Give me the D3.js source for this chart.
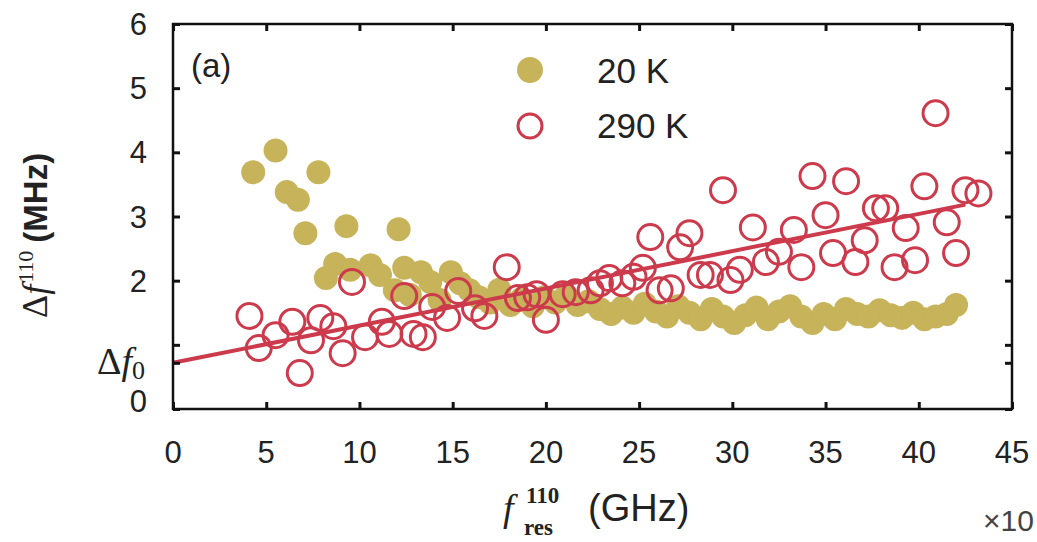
<!DOCTYPE html>
<html>
<head>
<meta charset="utf-8">
<script src="https://cdn.jsdelivr.net/npm/d3@7"></script>
<style>
  html, body { margin: 0; padding: 0; background: #fff; }
  svg { display: block; }
</style>
</head>
<body>
<svg id="chart" width="1037" height="542"></svg>
<script>
// Linewidth of resonance vs resonance frequency, two temperatures
const xTicks = [0, 5, 10, 15, 20, 25, 30, 35, 40, 45];
const yTicks = [0, 2, 3, 4, 5, 6];
const yMinorTicks = [1];
const deltaF0 = 0.72;        // intercept of the linear fit (MHz)
const fitSlope = 0.058;      // MHz per GHz
const fitRange = [0, 42.5];

// 20 K data: [f_res (GHz), Δf (MHz)]
const x20 = [4.3, 5.5, 6.1, 6.7, 7.8, 7.1, 9.3, 12.1, 8.2, 8.7, 9.5, 10.6, 11.1, 12.4, 13.3, 11.9, 12.7,
  13.8, 14.3, 14.9, 15.4, 15.9, 16.4, 17.0, 17.5, 18.1, 18.7, 19.3, 19.9, 20.5, 21.1, 21.7, 22.3, 22.9,
  23.5, 24.1, 24.7, 25.3, 25.9, 26.5, 27.1, 27.7, 28.3, 28.9, 29.5, 30.1, 30.7, 31.3, 31.9, 32.5, 33.1,
  33.7, 34.3, 34.9, 35.5, 36.1, 36.7, 37.3, 37.9, 38.5, 39.1, 39.7, 40.3, 40.9, 41.5, 42.0];
const y20 = [3.69, 4.03, 3.38, 3.26, 3.69, 2.74, 2.85, 2.80, 2.04, 2.26, 2.17, 2.24, 2.09, 2.20, 2.13, 1.85, 1.78,
  1.98, 1.70, 2.13, 1.96, 1.85, 1.74, 1.66, 1.86, 1.62, 1.72, 1.60, 1.74, 1.66, 1.76, 1.62, 1.68, 1.56,
  1.48, 1.58, 1.50, 1.64, 1.52, 1.44, 1.60, 1.50, 1.40, 1.56, 1.44, 1.34, 1.46, 1.58, 1.40, 1.52, 1.60,
  1.44, 1.34, 1.48, 1.40, 1.56, 1.48, 1.44, 1.54, 1.46, 1.42, 1.50, 1.40, 1.44, 1.48, 1.62];

// 290 K data: [f_res (GHz), Δf (MHz)]
const x290 = [4.1, 4.6, 5.5, 6.4, 6.8, 7.4, 7.9, 8.6, 9.1, 9.6, 10.3, 11.2, 11.6, 12.4, 12.9, 13.4, 13.9,
  14.7, 15.3, 16.2, 16.7, 17.9, 18.5, 19.0, 19.5, 20.0, 20.9, 21.6, 22.4, 22.9, 23.4, 24.1, 24.7, 25.2,
  25.6, 26.1, 26.7, 27.2, 27.7, 28.3, 28.8, 29.5, 29.9, 30.4, 31.1, 31.8, 32.5, 33.3, 33.7, 34.3, 35.0,
  35.4, 36.1, 36.6, 37.1, 37.7, 38.2, 38.7, 39.3, 39.8, 40.3, 40.9, 41.5, 42.0, 42.5, 43.2];
const y290 = [1.45, 0.95, 1.15, 1.36, 0.56, 1.07, 1.42, 1.29, 0.87, 1.98, 1.12, 1.36, 1.17, 1.76, 1.17, 1.12, 1.59,
  1.42, 1.84, 1.57, 1.45, 2.21, 1.73, 1.74, 1.79, 1.39, 1.79, 1.82, 1.85, 1.96, 2.04, 1.96, 2.06, 2.20,
  2.68, 1.85, 1.88, 2.52, 2.74, 2.09, 2.09, 3.41, 2.01, 2.17, 2.83, 2.29, 2.45, 2.79, 2.21, 3.63, 3.02,
  2.43, 3.55, 2.29, 2.63, 3.13, 3.13, 2.21, 2.82, 2.32, 3.47, 4.61, 2.91, 2.43, 3.41, 3.36];

const seriesNames = ["20 K", "290 K"];
const olive = "#c6b35a";
const red = "#cc3a4c";

const svg = d3.select("#chart");
const margin = { left: 173, right: 25, top: 24, bottom: 133 };
const W = 1037, H = 542;
const x = d3.scaleLinear().domain([0, 45]).range([margin.left, W - margin.right]);
const y = d3.scaleLinear().domain([0, 6]).range([H - margin.bottom, margin.top]);

const sans = "'Liberation Sans', Arial, sans-serif";
const serif = "'Liberation Serif', 'Times New Roman', serif";

// data: 20 K filled dots
const pts20 = x20.map((v, i) => [v, y20[i]]);
svg.append("g").selectAll("circle").data(pts20).join("circle")
  .attr("cx", d => x(d[0])).attr("cy", d => y(d[1])).attr("r", 12)
  .attr("fill", olive);

// linear fit for 290 K
const fitLine = d3.line().x(d => x(d)).y(d => y(deltaF0 + fitSlope * d));
svg.append("path").datum(fitRange).attr("d", fitLine)
  .attr("stroke", red).attr("stroke-width", 4).attr("fill", "none");

// data: 290 K open circles
const pts290 = x290.map((v, i) => [v, y290[i]]);
svg.append("g").selectAll("circle").data(pts290).join("circle")
  .attr("cx", d => x(d[0])).attr("cy", d => y(d[1])).attr("r", 12.5)
  .attr("fill", "none").attr("stroke", red).attr("stroke-width", 3);

// frame
svg.append("rect")
  .attr("x", x(0)).attr("y", y(6)).attr("width", x(45) - x(0)).attr("height", y(0) - y(6))
  .attr("fill", "none").attr("stroke", "#111").attr("stroke-width", 2.5);

// axes with inward ticks on all four sides
const tl = 7;
const yTickVals = yTicks.concat(yMinorTicks, [deltaF0]);
const bottomAxis = d3.axisBottom(x).tickValues(xTicks).tickSize(-tl).tickFormat("");
const topAxis = d3.axisTop(x).tickValues(xTicks).tickSize(-tl).tickFormat("");
const leftAxis = d3.axisLeft(y).tickValues(yTickVals).tickSize(-tl).tickFormat("");
const rightAxis = d3.axisRight(y).tickValues(yTickVals).tickSize(-tl).tickFormat("");
[[bottomAxis, `translate(0,${y(0)})`], [topAxis, `translate(0,${y(6)})`],
 [leftAxis, `translate(${x(0)},0)`], [rightAxis, `translate(${x(45)},0)`]].forEach(([ax, tr]) => {
  const g = svg.append("g").attr("transform", tr).call(ax);
  g.select(".domain").remove();
  g.selectAll("line").attr("stroke", "#111").attr("stroke-width", 3);
});

// tick labels
svg.append("g").selectAll("text").data(xTicks).join("text")
  .attr("x", d => x(d)).attr("y", 463)
  .attr("text-anchor", "middle")
  .style("font-family", sans).style("font-size", "31px").attr("fill", "#222")
  .text(d => d);

svg.append("g").selectAll("text").data(yTicks).join("text")
  .attr("x", 147).attr("y", d => Math.min(y(d), 401)).attr("dy", "0.36em")
  .attr("text-anchor", "end")
  .style("font-family", sans).style("font-size", "31px").attr("fill", "#222")
  .text(d => d);

// Δf0 label at the fit intercept
const df0 = svg.append("text")
  .attr("x", 145).attr("y", y(deltaF0) + 11).attr("text-anchor", "end")
  .style("font-family", serif).style("font-size", "38px").attr("fill", "#222");
df0.append("tspan").text("Δ");
df0.append("tspan").style("font-style", "italic").text("f");
df0.append("tspan").attr("dy", 5).style("font-size", "26px").text("0");

// panel tag
svg.append("text").attr("x", 191).attr("y", 77)
  .style("font-family", sans).style("font-size", "33px").attr("fill", "#222")
  .text("(a)");

// legend
const leg = svg.append("g");
leg.append("circle").attr("cx", 530).attr("cy", 70).attr("r", 13).attr("fill", olive);
leg.append("circle").attr("cx", 530).attr("cy", 126).attr("r", 12).attr("fill", "none")
  .attr("stroke", red).attr("stroke-width", 3);
leg.selectAll("text").data(seriesNames).join("text")
  .attr("x", 597).attr("y", (d, i) => 83 + i * 55)
  .style("font-family", sans).style("font-size", "35px").attr("fill", "#222")
  .text(d => d);

// x axis title: f_res^110 (GHz)
const xt = svg.append("text").attr("x", 503).attr("y", 521)
  .style("font-family", serif).style("font-size", "38px").attr("fill", "#222");
xt.append("tspan").style("font-style", "italic").text("f");
xt.append("tspan").attr("x", 526).attr("dy", -18).style("font-size", "23px").style("font-weight", "bold").text("110");
xt.append("tspan").attr("x", 524).attr("dy", 32).style("font-size", "23px").style("font-weight", "bold").text("res");
xt.append("tspan").attr("x", 588).attr("dy", -14).style("font-family", sans).style("font-size", "38px").text("(GHz)");

// scale factor at the lower right corner
svg.append("text").attr("x", 983).attr("y", 531)
  .style("font-family", sans).style("font-size", "30px").attr("fill", "#444")
  .text("×10");

// y axis title: Δf^110 (MHz)
const yt = svg.append("text")
  .attr("transform", "translate(47,318) rotate(-90)")
  .style("font-family", serif).style("font-size", "36px").attr("fill", "#222");
yt.append("tspan").text("Δ");
yt.append("tspan").style("font-style", "italic").text("f");
yt.append("tspan").attr("dx", 2).attr("dy", -14).style("font-size", "22px").text("110");
yt.append("tspan").attr("dx", 8).attr("dy", 14).style("font-family", sans).style("font-weight", "bold")
  .style("font-size", "33px").text("(MHz)");
</script>
</body>
</html>
